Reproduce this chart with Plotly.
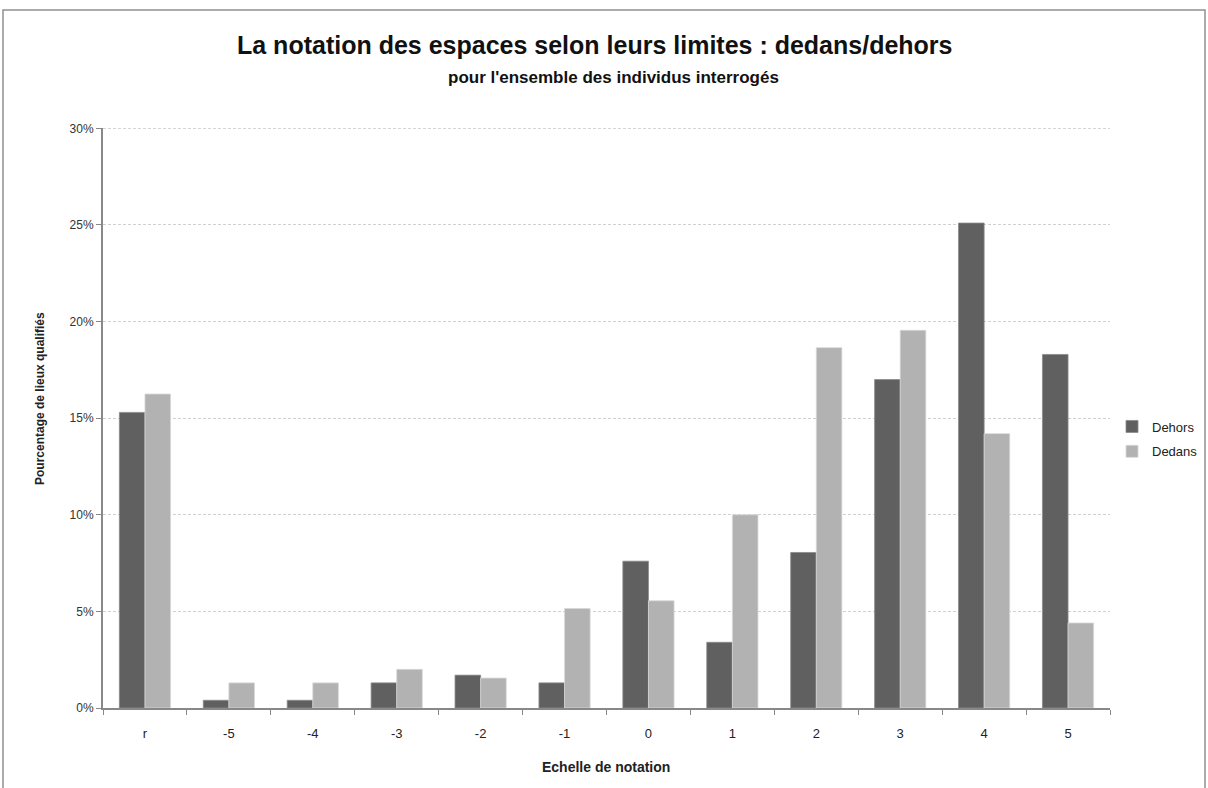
import plotly.graph_objects as go

categories = ["r", "-5", "-4", "-3", "-2", "-1", "0", "1", "2", "3", "4", "5"]
dehors = [15.3, 0.4, 0.4, 1.3, 1.7, 1.3, 7.6, 3.4, 8.05, 17.0, 25.1, 18.3]
dedans = [16.25, 1.3, 1.3, 2.0, 1.55, 5.15, 5.55, 10.0, 18.65, 19.55, 14.2, 4.4]
y_ticks = [0, 0.05, 0.10, 0.15, 0.20, 0.25, 0.30]

FONT = "Liberation Sans"
L, R, T, B = 103, 98, 128, 80
PW, PH = 1208 - L - R, 788 - T - B


def px(x):
    return (x - L) / PW


def py(y):
    return (788 - B - y) / PH


fig = go.Figure()
fig.add_trace(go.Bar(x=categories, y=[v / 100 for v in dehors], name="Dehors", legendgroup="a",
                     marker=dict(color="#606060", line=dict(color="#8a8a8a", width=0.8))))
fig.add_trace(go.Bar(x=categories, y=[v / 100 for v in dedans], name="Dedans", legendgroup="b",
                     marker=dict(color="#b2b2b2", line=dict(color="#d8d8d8", width=0.8))))

fig.update_layout(
    width=1208, height=788,
    paper_bgcolor="white", plot_bgcolor="white",
    margin=dict(l=L, r=R, t=T, b=B, autoexpand=False),
    barmode="group", bargap=0.39, bargroupgap=0,
    font=dict(family=FONT, color="#333333"),
    legend=dict(x=px(1112), y=py(439), xanchor="left", yanchor="middle",
                font=dict(size=13, color="#222222"), itemwidth=30,
                tracegroupgap=5, bgcolor="rgba(0,0,0,0)"),
    xaxis=dict(
        showline=True, linecolor="#888888", linewidth=2,
        ticks="outside", tickson="boundaries", ticklen=5, tickcolor="#888888",
        tickfont=dict(size=13, color="#222222"), ticklabelstandoff=12,
        showgrid=False,
    ),
    yaxis=dict(
        range=[0, 0.3002], tickvals=y_ticks,
        tickformat=".0%",
        showline=True, linecolor="#888888", linewidth=2,
        ticks="outside", ticklen=5, tickcolor="#888888",
        tickfont=dict(size=12, color="#333333"),
        showgrid=True, gridcolor="#d0d0d0", griddash="3px,2px", gridwidth=1,
        zeroline=False,
    ),
    showlegend=True,
)

# top gridline (at the axis end)
fig.add_shape(type="line", xref="paper", yref="y", x0=0, x1=1, y0=y_ticks[-1], y1=y_ticks[-1],
              line=dict(color="#d0d0d0", width=1, dash="3px,2px"), layer="below")

fig.add_annotation(text="<b>La notation des espaces selon leurs limites : dedans/dehors</b>",
                   x=px(595), y=py(45), xref="paper", yref="paper", showarrow=False,
                   xanchor="center", yanchor="middle",
                   font=dict(size=25, family=FONT, color="#111111"))
fig.add_annotation(text="<b>pour l'ensemble des individus interrogés</b>",
                   x=px(613), y=py(78), xref="paper", yref="paper", showarrow=False,
                   xanchor="center", yanchor="middle",
                   font=dict(size=17, family=FONT, color="#111111"))
fig.add_annotation(text="<b>Echelle de notation</b>",
                   x=px(606), y=py(767), xref="paper", yref="paper", showarrow=False,
                   xanchor="center", yanchor="middle",
                   font=dict(size=14, family=FONT, color="#222222"))
fig.add_annotation(text="<b>Pourcentage de lieux qualifiés</b>",
                   x=px(40), y=py(399), xref="paper", yref="paper", showarrow=False,
                   xanchor="center", yanchor="middle", textangle=-90,
                   font=dict(size=12, family=FONT, color="#222222"))

fig.add_shape(type="rect", xref="paper", yref="paper",
              x0=px(3), x1=px(1205), y0=py(900), y1=py(10),
              line=dict(color="#909090", width=1.5), fillcolor="rgba(0,0,0,0)", layer="below")

fig.write_html("out.html", config={"displayModeBar": False},
               post_script="document.body.style.margin='0';")
